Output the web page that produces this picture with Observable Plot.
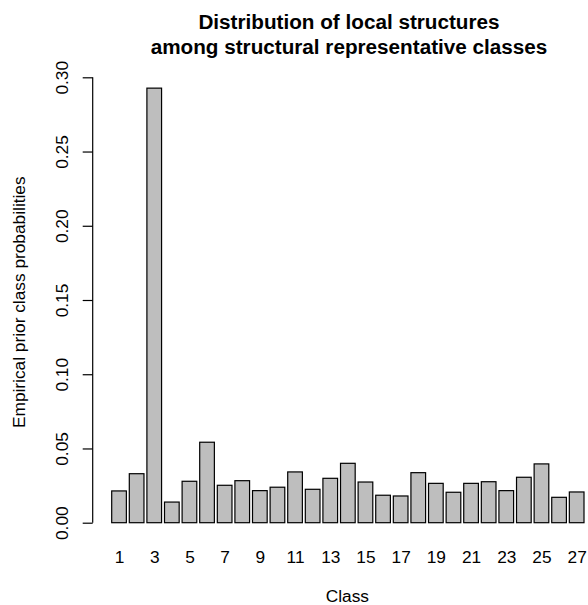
<!DOCTYPE html>
<html>
<head>
<meta charset="utf-8">
<script src="https://cdn.jsdelivr.net/npm/d3@7"></script>
<script src="https://cdn.jsdelivr.net/npm/@observablehq/plot@0.6"></script>
<style>
  body { margin: 0; background: #fff; }
  #title {
    font-family: "Liberation Sans", Arial, Helvetica, sans-serif;
    font-weight: bold;
    font-size: 20.7px;
    line-height: 25px;
    padding-top: 9px;
    padding-left: 110px;
    width: 478px;
    height: 50px;
    text-align: center;
    color: #000;
  }
  #chart svg { display: block; }
</style>
</head>
<body>
<div id="title">Distribution of local structures<br>among structural representative classes</div>
<div id="chart"></div>
<script>
const classes = [1,2,3,4,5,6,7,8,9,10,11,12,13,14,15,16,17,18,19,20,21,22,23,24,25,26,27];
const probs = [0.0214,0.0330,0.2927,0.0139,0.0279,0.0542,0.0252,0.0283,0.0216,0.0239,
               0.0342,0.0225,0.0299,0.0400,0.0274,0.0185,0.0180,0.0337,0.0265,0.0205,
               0.0265,0.0276,0.0216,0.0306,0.0396,0.0171,0.0207];
const xTickLabels = [1,3,5,7,9,11,13,15,17,19,21,23,25,27];
const yTicks = [0, 0.05, 0.10, 0.15, 0.20, 0.25, 0.30];
const xTitle = "Class";
const yTitle = "Empirical prior class probabilities";

const data = classes.map((c, i) => ({cls: c, p: probs[i]}));
const font = '"Liberation Sans", Arial, Helvetica, sans-serif';

const axisLine = (index, scales, values, dimensions) => {
  const g = d3.create("svg:g");
  g.append("line")
    .attr("x1", dimensions.marginLeft).attr("x2", dimensions.marginLeft)
    .attr("y1", scales.y(0)).attr("y2", scales.y(0.3))
    .attr("stroke", "black").attr("stroke-width", 1.2);
  return g.node();
};

const chart = Plot.plot({
  width: 588,
  height: 546,
  marginLeft: 92.7,
  marginRight: 0,
  marginTop: 18.3,
  marginBottom: 82.3,
  style: {fontFamily: font, fontSize: "17.3px", background: "white", color: "black"},
  x: {type: "band", domain: classes, range: [111.7, 584], paddingInner: 1/6, paddingOuter: 0, round: false},
  y: {domain: [0, 0.3]},
  marks: [
    Plot.barY(data, {x: "cls", y: "p", fill: "#bebebe", stroke: "black", strokeWidth: 1.2}),
    axisLine,
    Plot.axisY({ticks: yTicks, tickSize: 10, tickFormat: () => "", label: null, strokeWidth: 1.2}),
    Plot.text(yTicks, {y: d => d, text: d => d.toFixed(2), frameAnchor: "left", dx: -31, rotate: -90,
                       textAnchor: "middle", lineAnchor: "middle", fontSize: 17.3, fill: "black"}),
    Plot.axisX({ticks: xTickLabels, tickSize: 0, tickPadding: 28, label: null, fontSize: 17.3}),
    Plot.text([xTitle], {frameAnchor: "bottom", dx: 6.5, dy: 73.5, lineAnchor: "middle", fontSize: 17.3, fill: "black"}),
    Plot.text([yTitle], {frameAnchor: "left", dx: -73.7, dy: 1.7, rotate: -90, lineAnchor: "middle",
                         textAnchor: "middle", fontSize: 17.3, fill: "black"})
  ]
});
document.getElementById("chart").appendChild(chart);
</script>
</body>
</html>
